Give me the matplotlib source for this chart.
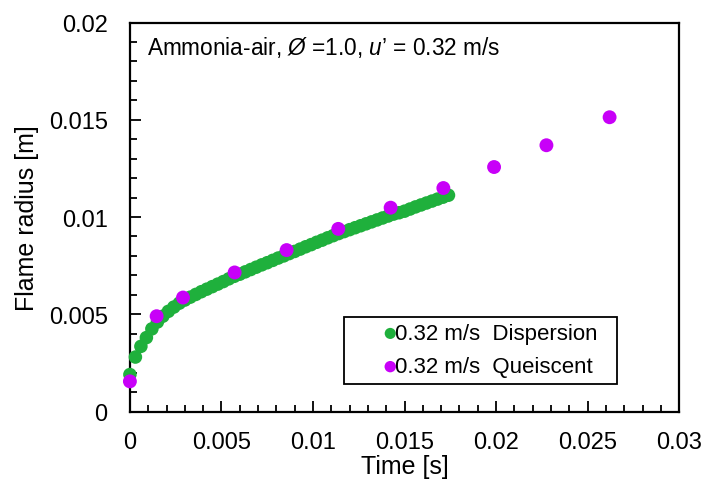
import matplotlib
matplotlib.use("Agg")
import matplotlib.pyplot as plt
import matplotlib.ticker as mticker

plt.rcParams.update({
    "font.family": ["Liberation Sans", "DejaVu Sans"],
    "mathtext.fontset": "custom",
    "mathtext.rm": "Liberation Sans",
    "mathtext.it": "Liberation Sans:italic",
})

# ── Data ───────────────────────────────────────────────────────────────────────
disp_t = [0.0000, 0.0003, 0.0006, 0.0009, 0.0012, 0.0015, 0.0018, 0.0021, 0.0024,
          0.0027, 0.0030, 0.0033, 0.0036, 0.0039, 0.0042, 0.0045, 0.0048, 0.0051,
          0.0054, 0.0057, 0.0060, 0.0063, 0.0066, 0.0069, 0.0072, 0.0075, 0.0078,
          0.0081, 0.0084, 0.0087, 0.0090, 0.0093, 0.0096, 0.0099, 0.0102, 0.0105,
          0.0108, 0.0111, 0.0114, 0.0117, 0.0120, 0.0123, 0.0126, 0.0129, 0.0132,
          0.0135, 0.0138, 0.0141, 0.0144, 0.0147, 0.0150, 0.0153, 0.0156, 0.0159,
          0.0162, 0.0165, 0.0168, 0.0171, 0.0174]
disp_r = [0.00190, 0.00280, 0.00335, 0.00380, 0.00425, 0.00460, 0.00490, 0.00515,
          0.00537, 0.00557, 0.00573, 0.00588, 0.00602, 0.00616, 0.00629, 0.00642,
          0.00655, 0.00668, 0.00682, 0.00695, 0.00706, 0.00718, 0.00730, 0.00742,
          0.00754, 0.00765, 0.00777, 0.00789, 0.00800, 0.00812, 0.00823, 0.00835,
          0.00847, 0.00858, 0.00870, 0.00881, 0.00893, 0.00904, 0.00915, 0.00925,
          0.00935, 0.00945, 0.00955, 0.00965, 0.00975, 0.00985, 0.00995, 0.01005,
          0.01015, 0.01022, 0.01030, 0.01041, 0.01052, 0.01062, 0.01072, 0.01082,
          0.01092, 0.01102, 0.01112]

quies_t = [0.0000, 0.00146, 0.00290, 0.00572, 0.00856, 0.01138, 0.01424, 0.01712,
           0.01989, 0.02275, 0.02620]
quies_r = [0.00155, 0.00490, 0.00586, 0.00715, 0.00830, 0.00939, 0.01048, 0.01149,
           0.01257, 0.01369, 0.01513]

GREEN = "#1FB03C"
PURPLE = "#C800F8"

fig = plt.figure(figsize=(7.06, 4.81), dpi=100)
ax = fig.add_axes([0.184, 0.1424, 0.778, 0.8087])

ax.scatter(disp_t, disp_r, s=95, color=GREEN, edgecolors="none", zorder=3,
           clip_on=False, label="0.32 m/s  Dispersion  ")
ax.scatter(quies_t, quies_r, s=100, color=PURPLE, edgecolors="none", zorder=4,
           clip_on=False, label="0.32 m/s  Queiscent")

ax.set_xlim(0, 0.03)
ax.set_ylim(0, 0.02)
ax.xaxis.set_major_locator(mticker.MultipleLocator(0.005))
ax.xaxis.set_minor_locator(mticker.MultipleLocator(0.001))
ax.yaxis.set_major_locator(mticker.MultipleLocator(0.005))
ax.yaxis.set_minor_locator(mticker.MultipleLocator(0.001))
fmt = mticker.FuncFormatter(lambda v, p: f"{round(v, 4):g}")
ax.xaxis.set_major_formatter(fmt)
ax.yaxis.set_major_formatter(fmt)

ax.tick_params(which="both", direction="in", top=False, right=False,
               width=1.3, labelsize=17, colors="black")
ax.tick_params(which="major", length=8)
ax.tick_params(which="minor", length=5)
ax.tick_params(axis="x", which="major", pad=14)
ax.tick_params(axis="y", which="major", pad=16)
for sp in ax.spines.values():
    sp.set_linewidth(1.6)

ax.set_xlabel("Time [s]", fontsize=18, labelpad=0.5)
ax.set_ylabel("Flame radius [m]", fontsize=18, labelpad=7)

ax.text(0.031, 0.938, "Ammonia-air, $Ø$ =1.0, $u’$ = 0.32 m/s",
        transform=ax.transAxes, fontsize=16.3, va="center", ha="left")

leg = ax.legend(loc="upper left", bbox_to_anchor=(0.389, 0.244), fontsize=16,
                frameon=True, fancybox=False, edgecolor="black", framealpha=1,
                handlelength=3.6, handletextpad=-1.58, borderpad=0.3,
                labelspacing=0.55, markerscale=0.82, borderaxespad=0)
leg.get_frame().set_linewidth(1.3)

fig.savefig("out.png", dpi=100)
